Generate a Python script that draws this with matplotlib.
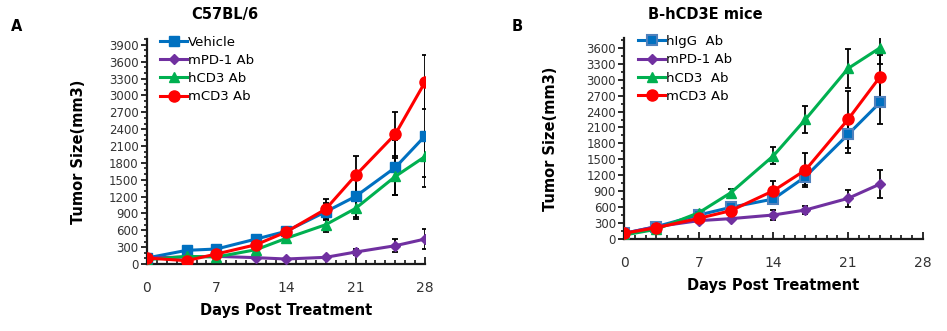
import numpy as np
import matplotlib.pyplot as plt
from matplotlib.ticker import MultipleLocator

plt.rcParams['font.family'] = ['DejaVu Sans']

# Panel A: C57BL/6
days_a = [0, 4, 7, 11, 14, 18, 21, 25, 28]
vehicle_a = [107, 243, 267, 445, 581, 930, 1203, 1719, 2282]
vehicle_a_err = [20, 30, 30, 70, 80, 150, 360, 490, 905]
mpd1_a = [107, 125, 136, 113, 89, 119, 213, 326, 445]
mpd1_a_err = [10, 15, 15, 15, 15, 20, 60, 120, 185]
hcd3_a = [77, 136, 125, 255, 456, 700, 990, 1559, 1915]
hcd3_a_err = [10, 20, 20, 40, 60, 135, 190, 330, 360]
mcd3_a = [107, 59, 178, 344, 569, 978, 1577, 2312, 3243]
mcd3_a_err = [10, 15, 30, 50, 90, 180, 346, 395, 480]
labels_a = ['Vehicle', 'mPD-1 Ab', 'hCD3 Ab', 'mCD3 Ab']

# Panel B: B-hCD3E mice
days_b = [0, 3, 7, 10, 14, 17, 21, 24]
higg_b = [107, 232, 452, 596, 753, 1173, 1969, 2571]
higg_b_err = [15, 30, 50, 60, 90, 150, 356, 413]
mpd1_b = [107, 232, 345, 383, 452, 546, 765, 1035]
mpd1_b_err = [15, 25, 30, 40, 90, 80, 155, 260]
hcd3_b = [75, 182, 495, 872, 1568, 2252, 3211, 3600]
hcd3_b_err = [15, 30, 50, 70, 155, 257, 359, 300]
mcd3_b = [107, 213, 389, 533, 909, 1298, 2252, 3054]
mcd3_b_err = [15, 30, 50, 60, 190, 315, 530, 420]
labels_b = ['hIgG  Ab', 'mPD-1 Ab', 'hCD3  Ab', 'mCD3 Ab']

blue = '#0070C0'
purple = '#7030A0'
green = '#00B050'
red = '#FF0000'

fig = plt.figure(figsize=(9.47, 3.31), dpi=100)
axA = fig.add_axes([0.155, 0.2024, 0.294, 0.679])
axB = fig.add_axes([0.6592, 0.278, 0.3151, 0.608])


def draw(ax, x, y, err, color, marker, ms, label, mec=None):
    ax.errorbar(x, y, yerr=err, fmt='none', ecolor='black', elinewidth=1.3,
                capsize=2.5, capthick=1.3, zorder=2)
    ax.plot(x, y, color=color, lw=2.2, marker=marker, ms=ms, label=label,
            mfc=color, mec=mec if mec else color, mew=1.5 if mec else 1,
            zorder=3)


draw(axA, days_a, vehicle_a, vehicle_a_err, blue, 's', 7, labels_a[0])
draw(axA, days_a, mpd1_a, mpd1_a_err, purple, 'D', 5, labels_a[1])
draw(axA, days_a, hcd3_a, hcd3_a_err, green, '^', 7.5, labels_a[2])
draw(axA, days_a, mcd3_a, mcd3_a_err, red, 'o', 8, labels_a[3])

draw(axB, days_b, higg_b, higg_b_err, blue, 's', 6.5, labels_b[0], mec='#4F81BD')
draw(axB, days_b, mpd1_b, mpd1_b_err, purple, 'D', 5, labels_b[1])
draw(axB, days_b, hcd3_b, hcd3_b_err, green, '^', 7.5, labels_b[2])
draw(axB, days_b, mcd3_b, mcd3_b_err, red, 'o', 8, labels_b[3])

for ax, ymax, ytop, ymin_step, ypad in [(axA, 4000, 3900, 100, 16),
                                        (axB, 3790, 3600, 150, 20)]:
    ax.set_xlim(0, 28)
    ax.set_ylim(0, ymax)
    ax.set_xticks([0, 7, 14, 21, 28])
    ax.xaxis.set_minor_locator(MultipleLocator(1))
    ax.set_yticks(np.arange(0, ytop + 1, 300))
    ax.yaxis.set_minor_locator(MultipleLocator(ymin_step))
    for s in ['top', 'right']:
        ax.spines[s].set_visible(False)
    for s in ['left', 'bottom']:
        ax.spines[s].set_linewidth(1.6)
        ax.spines[s].set_color('#1a1a1a')
    ax.tick_params(axis='x', which='major', direction='in', length=5, width=1.3,
                   labelsize=10, pad=12, colors='#1a1a1a')
    ax.tick_params(axis='x', which='minor', direction='in', length=3, width=1.1)
    ax.tick_params(axis='y', which='major', direction='out', length=4, width=1.3,
                   labelsize=8.5, pad=2, colors='#1a1a1a')
    ax.tick_params(axis='y', which='minor', direction='out', length=2, width=1.1)
    for lab in ax.get_xticklabels() + ax.get_yticklabels():
        lab.set_color('#333333')
    ax.set_xlabel('Days Post Treatment', fontsize=10.5, fontweight='bold', labelpad=6)
    ax.set_ylabel('Tumor Size(mm3)', fontsize=10.5, fontweight='bold', labelpad=ypad)
    ax.legend(loc='upper left', bbox_to_anchor=(0.03, 1.04), frameon=False,
              fontsize=9.5, handlelength=2.0, handletextpad=0.1,
              labelspacing=0.4, borderaxespad=0)

fig.text(0.237, 0.955, 'C57BL/6', fontsize=10.5, fontweight='bold',
         ha='center', va='center')
fig.text(0.745, 0.955, 'B-hCD3E mice', fontsize=10.5, fontweight='bold',
         ha='center', va='center')
fig.text(0.012, 0.905, 'A', fontsize=10.5, fontweight='bold')
fig.text(0.540, 0.905, 'B', fontsize=10.5, fontweight='bold')

fig.savefig('out.png', dpi=100)
